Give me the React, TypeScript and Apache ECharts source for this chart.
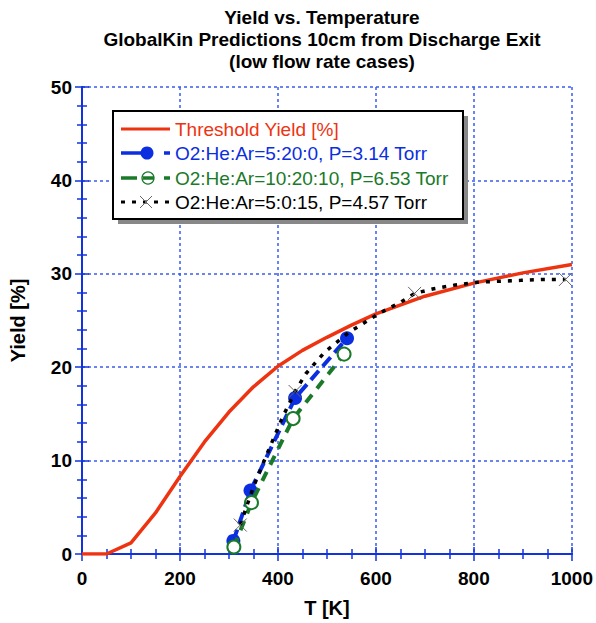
import React, { useEffect, useRef } from "react";
import * as echarts from "echarts";

const thresholdData: number[][] = [
  [0, 0], [50, 0], [100, 1.2], [150, 4.4], [200, 8.3], [250, 12.0], [300, 15.2],
  [350, 17.9], [400, 20.1], [450, 21.8], [500, 23.2], [550, 24.5], [600, 25.7],
  [700, 27.6], [800, 29.0], [900, 30.1], [1000, 31.0],
];
const blueData: number[][] = [[309, 1.4], [344, 6.8], [435, 16.7], [541, 23.1]];
const greenData: number[][] = [[310, 0.75], [346, 5.5], [431, 14.5], [535, 21.4]];
// [T, yield, isMarker]
const blackData: number[][] = [
  [323, 3.1, 1], [350, 7.2, 0], [380, 11.0, 0], [409, 14.6, 0], [435, 17.4, 1],
  [457, 19.3, 0], [495, 21.6, 0], [544, 23.7, 0], [608, 25.8, 0], [652, 27.0, 0],
  [679, 27.9, 1], [718, 28.4, 0], [762, 28.8, 0], [807, 29.1, 0], [850, 29.2, 0],
  [896, 29.3, 0], [941, 29.4, 0], [987, 29.4, 1],
];
const seriesNames = [
  "Threshold Yield [%]",
  "O2:He:Ar=5:20:0, P=3.14 Torr",
  "O2:He:Ar=10:20:10, P=6.53 Torr",
  "O2:He:Ar=5:0:15, P=4.57 Torr",
];
const titleLines = [
  "Yield vs. Temperature",
  "GlobalKin Predictions 10cm from Discharge Exit",
  "(low flow rate cases)",
];

const RED = "#ee3311";
const BLUE = "#0a2ee0";
const GREEN = "#1a7a2a";
const AXIS = "#1133dd";
const GRID = "#3a5cf0";
const FONT = "'Liberation Sans', Arial, Helvetica, sans-serif";
const XPATH = "path://M0 0L10 10M10 0L0 10";

export default function App() {
  const ref = useRef<HTMLDivElement>(null);
  useEffect(() => {
    if (!ref.current) return;
    const chart = echarts.init(ref.current, undefined, { renderer: "svg" });
    const label = (show: boolean, margin: number) => ({
      show,
      margin,
      color: "#000",
      fontFamily: FONT,
      fontWeight: "bold" as const,
      fontSize: 19,
      formatter: (v: number) => String(v),
    });
    const axisLine = { show: true, lineStyle: { color: AXIS, width: 2 } };
    const axisTick = { show: true, inside: true, length: 7, lineStyle: { color: AXIS, width: 1.5 } };
    const minor = (n: number) => ({ show: true, splitNumber: n, length: -5, lineStyle: { color: AXIS, width: 1.5 } });
    const lx = 113, ly = 111, lw = 350, lh = 108;
    const rows = [129, 153, 178, 202];
    const colors = [RED, BLUE, GREEN, "#000"];
    const legendEls: any[] = [
      { type: "rect", shape: { x: lx + 5, y: ly + 5, width: lw, height: lh }, style: { fill: "#888" } },
      { type: "rect", shape: { x: lx, y: ly, width: lw, height: lh }, style: { fill: "#fff", stroke: "#000", lineWidth: 2 } },
      { type: "line", shape: { x1: 121, y1: rows[0], x2: 170, y2: rows[0] }, style: { stroke: RED, lineWidth: 3 } },
      { type: "line", shape: { x1: 121, y1: rows[1], x2: 147, y2: rows[1] }, style: { stroke: BLUE, lineWidth: 3.5 } },
      { type: "line", shape: { x1: 164, y1: rows[1], x2: 170, y2: rows[1] }, style: { stroke: BLUE, lineWidth: 3.5 } },
      { type: "circle", shape: { cx: 147, cy: rows[1], r: 6.5 }, style: { fill: BLUE } },
      { type: "line", shape: { x1: 121, y1: rows[2], x2: 137, y2: rows[2] }, style: { stroke: GREEN, lineWidth: 3.5 } },
      { type: "line", shape: { x1: 143, y1: rows[2], x2: 154, y2: rows[2] }, style: { stroke: GREEN, lineWidth: 3.5 } },
      { type: "line", shape: { x1: 164, y1: rows[2], x2: 170, y2: rows[2] }, style: { stroke: GREEN, lineWidth: 3.5 } },
      { type: "circle", shape: { cx: 148, cy: rows[2], r: 6 }, style: { fill: "none", stroke: GREEN, lineWidth: 1.3 } },
      { type: "line", shape: { x1: 121, y1: rows[3], x2: 170, y2: rows[3] }, style: { stroke: "#000", lineWidth: 3, lineDash: [4, 7] } },
      { type: "line", shape: { x1: 140, y1: rows[3] - 6, x2: 152, y2: rows[3] + 6 }, style: { stroke: "#666", lineWidth: 1 } },
      { type: "line", shape: { x1: 152, y1: rows[3] - 6, x2: 140, y2: rows[3] + 6 }, style: { stroke: "#666", lineWidth: 1 } },
    ];
    seriesNames.forEach((n, i) => {
      legendEls.push({
        type: "text",
        style: {
          text: n, x: 175, y: rows[i], textVerticalAlign: "middle",
          fill: colors[i], font: `19px ${FONT}`,
        },
      });
    });
    legendEls.forEach((e) => { e.z = 100; });
    chart.setOption({
      animation: false,
      backgroundColor: "#fff",
      grid: { left: 78, top: 87, width: 497, height: 469 },
      xAxis: [
        {
          type: "value", min: 0, max: 1000, interval: 200, position: "bottom",
          axisLine, axisTick, minorTick: minor(4), axisLabel: label(true, 15),
          splitLine: { show: true, lineStyle: { color: GRID, width: 1.5, type: [3, 3] } },
          name: "T [K]", nameLocation: "middle", nameGap: 44,
          nameTextStyle: { color: "#000", fontFamily: FONT, fontWeight: "bold", fontSize: 20 },
        },
        {
          type: "value", min: 0, max: 1000, interval: 200, position: "top",
          axisLine, axisTick, minorTick: minor(4), axisLabel: label(false, 8),
          splitLine: { show: false },
        },
      ],
      yAxis: [
        {
          type: "value", min: 0, max: 50, interval: 10, position: "left",
          axisLine, axisTick, minorTick: minor(5), axisLabel: label(true, 10),
          splitLine: { show: true, lineStyle: { color: GRID, width: 1.5, type: [3, 3] } },
          name: "Yield [%]", nameLocation: "middle", nameGap: 54, nameRotate: 90,
          nameTextStyle: { color: "#000", fontFamily: FONT, fontWeight: "bold", fontSize: 20 },
        },
        {
          type: "value", min: 0, max: 50, interval: 10, position: "right",
          axisLine, axisTick, minorTick: minor(5), axisLabel: label(false, 8),
          splitLine: { show: false },
        },
      ],
      graphic: [
        {
          type: "text", z: 100,
          style: {
            text: titleLines.join("\n"), x: 322, y: 6, textAlign: "center",
            font: `bold 19px ${FONT}`, lineHeight: 22, fill: "#000",
          },
        },
        ...legendEls,
      ],
      series: [
        {
          name: seriesNames[0], type: "line", data: thresholdData, symbol: "none",
          lineStyle: { color: RED, width: 3.5 }, z: 2,
        },
        {
          name: seriesNames[1], type: "line", data: blueData, symbol: "circle", symbolSize: 14,
          itemStyle: { color: BLUE }, lineStyle: { color: BLUE, width: 4, type: [12, 6] }, z: 3,
        },
        {
          name: seriesNames[2], type: "line", data: greenData, symbol: "emptyCircle", symbolSize: 13,
          itemStyle: { color: GREEN, borderWidth: 1.3 }, lineStyle: { color: GREEN, width: 4, type: [10, 8] }, z: 4,
        },
        {
          name: seriesNames[3], type: "line",
          data: blackData.map((d) => ({ value: [d[0], d[1]], symbol: d[2] ? XPATH : "none" })),
          symbol: XPATH, symbolSize: 13, showAllSymbol: true,
          itemStyle: { color: "#666", borderColor: "#666", borderWidth: 1 },
          lineStyle: { color: "#000", width: 3.5, type: [4, 7] }, z: 5,
        },
      ],
    });
    return () => chart.dispose();
  }, []);
  return (
    <div
      ref={ref}
      style={{ position: "absolute", left: 0, top: 0, width: 596, height: 623 }}
    />
  );
}
